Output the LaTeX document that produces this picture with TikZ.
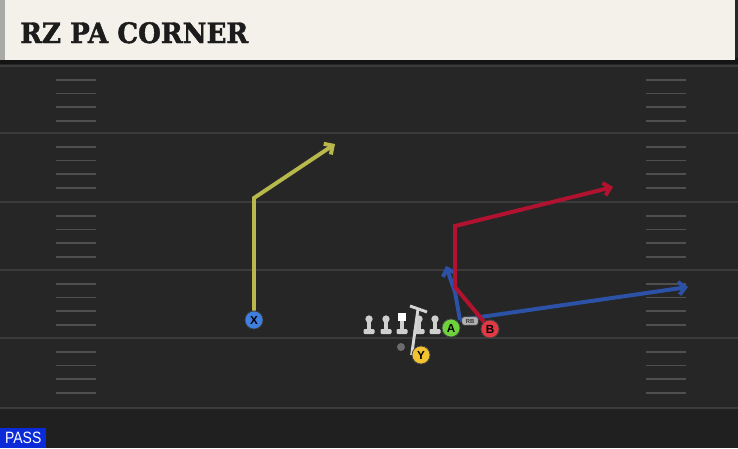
\documentclass[tikz,border=0pt]{standalone}
\usepackage{fontspec}
\setmainfont{Liberation Sans}
\newfontfamily\titlefont[BoldFeatures={FakeBold=1.6}]{DejaVu Serif}
\usetikzlibrary{arrows.meta}

\definecolor{field}{HTML}{262626}
\definecolor{endzone}{HTML}{202020}
\definecolor{yard}{HTML}{3B3B3B}
\definecolor{header}{HTML}{F4F1EA}
\definecolor{headeredge}{HTML}{A9AAA6}
\definecolor{headshadow}{HTML}{141414}
\definecolor{titletext}{HTML}{1C1C1C}
\definecolor{xblue}{HTML}{3F7FE0}
\definecolor{ygold}{HTML}{F2C230}
\definecolor{agreen}{HTML}{6ED23C}
\definecolor{bred}{HTML}{E23A45}
\definecolor{yroute}{HTML}{B8B84C}
\definecolor{rroute}{HTML}{B0122F}
\definecolor{broute}{HTML}{2B52A6}
\definecolor{qbgray}{HTML}{6C6C6C}
\definecolor{lineman}{HTML}{CFCFCF}
\definecolor{passblue}{HTML}{0B2BD9}

\begin{document}
\begin{tikzpicture}[x=0.03cm,y=-0.03cm,
        route/.style={line width=3.4pt, -{Straight Barb[length=5.5pt,width=11pt]}, line join=miter},
        block/.style={line width=2.5pt, draw=lineman!90!white},
        player/.style={circle, draw=black!75, line width=0.6pt, minimum size=0.54cm, inner sep=0pt, text=black, font=\fontsize{10}{10}\selectfont\bfseries},
        lhead/.style={circle, fill=lineman, minimum size=0.22cm, inner sep=0pt},
        yardline/.style={draw=yard, line width=1.6pt},
        hash/.style={draw=yard!90!white, line width=1.3pt}]
                \useasboundingbox (0,0) rectangle (738,448);

                % field
                \fill[field] (0,0) rectangle (738,448);
                \fill[endzone] (0,408) rectangle (738,448);
                \foreach \y in {66,133,202,270,338,408}
                        \draw[yardline] (0,\y) -- (738,\y);
                \foreach \y in {66,133,202,270,338}
                        \foreach \d in {14,27.5,41,55} {
                                \draw[hash] (56,\y+\d) -- (96,\y+\d);
                                \draw[hash] (646,\y+\d) -- (686,\y+\d);
                        }

                % header
                \fill[headshadow] (0,58) rectangle (738,64);
                \fill[header] (0,0) rectangle (735,60);
                \fill[headeredge] (0,0) rectangle (5,60);
                \node[anchor=base west, inner sep=0pt, text=titletext, font=\titlefont\bfseries\fontsize{24}{24}\selectfont] (title) at (20,43) {\scalebox{0.93}[1]{RZ PA CORNER}};

                % line
                \foreach \x/\n in {369/lt,386/lg,419/rg,435/rt} {
                        \fill[lineman] (\x-2.2,319) rectangle (\x+2.2,331);
                        \fill[lineman, rounded corners=1pt] (\x-5.5,329) rectangle (\x+5.5,334);
                        \node[lhead] (\n) at (\x,319) {};
                }
                \fill[lineman] (399.8,319) rectangle (404.2,331);
                \fill[lineman, rounded corners=1pt] (396.5,329) rectangle (407.5,334);
                \node[fill=white, minimum size=0.26cm, inner sep=0pt] (c) at (402,317) {};

                \node[circle, fill=qbgray, minimum size=0.24cm, inner sep=0pt] (qb) at (401,347) {};

                % route points
                \coordinate (x1) at (254,198);
                \coordinate (x2) at (335,144);
                \coordinate (s) at (460,320);
                \coordinate (a1) at (455,292);
                \coordinate (a2) at (446,266);
                \coordinate (a3) at (688,287);
                \coordinate (b1) at (455,287);
                \coordinate (b2) at (455,226);
                \coordinate (b3) at (613,187);
                \coordinate (y1) at (418,309);
                \coordinate (yb1) at (410,306);
                \coordinate (yb2) at (427,312);

                \node[player, fill=xblue] (X) at (254,320) {X};
                \node[player, fill=ygold] (Y) at (421,355) {Y};
                \node[player, fill=agreen] (A) at (451,328) {A};
                \node[player, fill=bred] (B) at (490,329) {B};

                \draw[route, draw=broute] (s) -- (a1) -- (a2);
                \draw[route, draw=broute] (s) -- (a3);
                \draw[route, draw=rroute] (B) -- (b1) -- (b2) -- (b3);
                \draw[route, draw=yroute] (X) -- (x1) -- (x2);
                \draw[block] (Y.west) -- (y1);
                \draw[block] (yb1) -- (yb2);

                \node[rounded corners=1.5pt, fill=lineman!85!black, draw=black!70, line width=0.4pt, minimum width=0.48cm, minimum height=0.25cm, inner sep=0pt, text=black!80, font=\fontsize{5}{5}\selectfont\bfseries] (rb) at (470,321) {RB};
                \node[player, fill=agreen] at (A) {A};
                \node[player, fill=bred] at (B) {B};
                \node[player, fill=ygold] at (Y) {Y};

                \node[anchor=south west, fill=passblue, text=white, minimum width=1.38cm, minimum height=0.6cm, inner sep=0pt, font=\fontsize{14}{14}\selectfont] (pass) at (0,448) {\scalebox{0.85}[1]{PASS}};
\end{tikzpicture}
\end{document}
